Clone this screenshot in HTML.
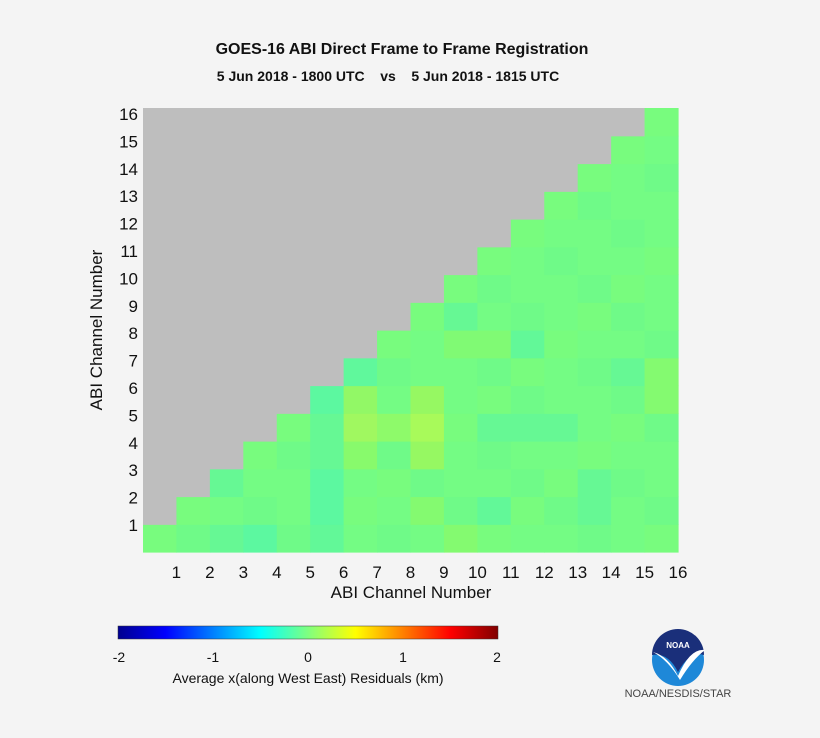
<!DOCTYPE html>
<html><head><style>
body{margin:0;background:#f4f4f4;}
svg{display:block;font-family:"Liberation Sans",Arial,sans-serif;}
</style></head><body>
<svg id="s" width="820" height="738" xmlns="http://www.w3.org/2000/svg">
<rect width="820" height="738" fill="#f4f4f4"/>
<defs>
<linearGradient id="jet" x1="0" x2="1" y1="0" y2="0">
<stop offset="0" stop-color="#00008f"/>
<stop offset="0.125" stop-color="#0000ff"/>
<stop offset="0.375" stop-color="#00ffff"/>
<stop offset="0.625" stop-color="#ffff00"/>
<stop offset="0.875" stop-color="#ff0000"/>
<stop offset="1" stop-color="#800000"/>
</linearGradient>
</defs>
<text x="402" y="54" text-anchor="middle" font-size="16" font-weight="bold" fill="#111">GOES-16 ABI Direct Frame to Frame Registration</text>
<text x="388" y="81" text-anchor="middle" font-size="14" font-weight="bold" fill="#111" xml:space="preserve">5 Jun 2018 - 1800 UTC    vs    5 Jun 2018 - 1815 UTC</text>
<g id="cells"></g>
<g id="ticks" font-size="17" fill="#111"></g>
<text x="411" y="598" text-anchor="middle" font-size="17" fill="#111">ABI Channel Number</text>
<text transform="translate(102,330) rotate(-90)" text-anchor="middle" font-size="17" fill="#111">ABI Channel Number</text>
<rect x="118" y="626" width="380" height="13" fill="url(#jet)"/>
<rect x="118" y="626" width="380" height="13" fill="none" stroke="#333" stroke-width="0.5"/>
<g font-size="14" fill="#111" text-anchor="middle">
<text x="119" y="662">-2</text><text x="213" y="662">-1</text><text x="308" y="662">0</text><text x="403" y="662">1</text><text x="497" y="662">2</text>
</g>
<text x="308" y="683" text-anchor="middle" font-size="14" fill="#111">Average x(along West East) Residuals (km)</text>
<circle cx="678" cy="660" r="26" fill="#1e88d8"/>
<path d="M652,655 A26,26 0 0 1 704,655 Q690,650 678,672 Q668,652 652,655Z" fill="#1a2f7a"/>
<path d="M653,652 Q668,656 678,676 Q690,648 705,650 Q692,660 680,680 Q668,660 653,652Z" fill="#fff"/>
<text x="678" y="648" text-anchor="middle" font-size="8" font-weight="bold" fill="#fff">NOAA</text>
<text x="678" y="697" text-anchor="middle" font-size="11" fill="#444">NOAA/NESDIS/STAR</text>
</svg>
<script>
const x0=143,w=(678-143)/16,y1=552,h=(552-108)/16;
const g=document.getElementById('cells');
const special={"5,9":"#a8fa5a","6,9":"#96f862","5,7":"#a0f860","6,7":"#92f866","5,8":"#8efa6a","4,7":"#88fa6c","4,9":"#96f862",
"2,6":"#5cf8a0","3,6":"#5cf8a0","4,6":"#66f894","5,6":"#66f894","1,6":"#62f898","1,3":"#66f894","3,3":"#66f894","1,4":"#5cf8a0",
"6,6":"#5cf8a0","7,7":"#60f89c","9,10":"#66f894","8,12":"#62f898","5,11":"#66f894","5,12":"#66f894","5,13":"#66f894",
"1,10":"#84fa70","2,9":"#84fa70","2,11":"#62f898","2,14":"#66f894","3,14":"#66f894","7,15":"#66f894","6,16":"#84fa70","7,16":"#84fa70","8,10":"#80fa74","8,11":"#80fa74"};
let s='';
for(let r=1;r<=16;r++)for(let c=1;c<=16;c++){
 const x=x0+(c-1)*w,y=y1-r*h;
 let col=c>=r?(special[r+","+c]||((r*7+c*3)%5==0?"#78fc7e":((r+c)%3==0?"#6ffa88":"#74fc84"))):"#bebebe";
 s+=`<rect x="${x.toFixed(2)}" y="${y.toFixed(2)}" width="${(w+0.6).toFixed(2)}" height="${(h+0.6).toFixed(2)}" fill="${col}"/>`;
}
g.innerHTML=s;
let t='';
for(let k=1;k<=16;k++){
 t+=`<text x="${(x0+k*w).toFixed(1)}" y="578" text-anchor="middle">${k}</text>`;
 t+=`<text x="138" y="${(525-(k-1)*27.4+6).toFixed(1)}" text-anchor="end">${k}</text>`;
}
document.getElementById('ticks').innerHTML=t;
</script>
</body></html>
